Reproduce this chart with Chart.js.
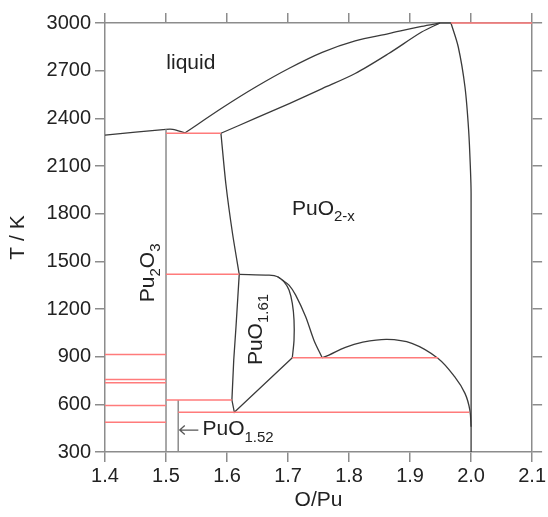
<!DOCTYPE html>
<html>
<head>
<meta charset="utf-8">
<script src="https://cdn.jsdelivr.net/npm/chart.js@4.4.1/dist/chart.umd.min.js"></script>
<style>
  html, body { margin: 0; padding: 0; background: #fff; }
</style>
</head>
<body>
<canvas id="diagrama" width="548" height="517"></canvas>
<script>
// limites das fases (O/Pu, T em K)
const liqPuX = [1.4, 1.5, 1.511, 1.531];
const liqPuT = [2294, 2331, 2331, 2308];

const liquidusX = [1.531, 1.593, 1.647, 1.702, 1.756, 1.81, 1.865, 1.919, 1.949];
const liquidusT = [2308, 2468, 2597, 2715, 2815, 2887, 2933, 2979, 3000];

const solidusX = [1.59, 1.647, 1.702, 1.756, 1.81, 1.865, 1.919, 1.949];
const solidusT = [2306, 2401, 2493, 2587, 2682, 2808, 2943, 3000];

const topoX = [1.949, 1.967];
const topoT = [3000, 3000];

const puo2DirX = [1.967, 1.979, 1.99, 1.996, 1.999, 2.0, 2.0];
const puo2DirT = [3000, 2849, 2597, 2325, 2074, 1929, 300];

const puo2EsqX = [1.59, 1.598, 1.609, 1.62];
const puo2EsqT = [2306, 1990, 1675, 1418];

const puo161TopoX = [1.62, 1.669, 1.683, 1.6935, 1.7016, 1.707, 1.7098, 1.7098, 1.707];
const puo161TopoT = [1418, 1413, 1403, 1371, 1319, 1235, 1130, 1004, 893];

const externoX = [1.683, 1.6907, 1.7016, 1.7125, 1.7289, 1.7424, 1.756];
const externoT = [1403, 1382, 1350, 1287, 1151, 1004, 893];

const domoX = [1.756, 1.767, 1.794, 1.821, 1.862, 1.903, 1.946, 1.973, 1.99, 1.998, 2.0];
const domoT = [893, 910, 959, 990, 1009, 984, 889, 774, 669, 564, 459];

const puo161EsqX = [1.62, 1.6147, 1.611, 1.608, 1.612, 1.707];
const puo161EsqT = [1418, 1088, 879, 627, 550, 893];

// compostos de linha (verticais cinza)
const pu2o3X = [1.5, 1.5];
const pu2o3T = [2331, 300];
const puo152X = [1.52, 1.52];
const puo152T = [627, 300];

// isotermas (linhas vermelhas)
const isoT = [2306, 1418, 627, 550, 893, 913, 756, 736, 593, 488, 3000];
const isoX0 = [1.5, 1.5, 1.5, 1.52, 1.707, 1.4, 1.4, 1.4, 1.4, 1.4, 1.967];
const isoX1 = [1.59, 1.62, 1.608, 1.997, 1.946, 1.5, 1.5, 1.5, 1.5, 1.5, 2.1];

const xTicks = [1.4, 1.5, 1.6, 1.7, 1.8, 1.9, 2.0, 2.1];
const yTicks = [300, 600, 900, 1200, 1500, 1800, 2100, 2400, 2700, 3000];

const FONTE = '"Liberation Sans", Arial, sans-serif';
const CINZA = "#8c8c8c";

function linha(xs, ts, cor, largura, tensao) {
  return {
    data: xs.map((x, i) => ({ x: x, y: ts[i] })),
    showLine: true,
    borderColor: cor,
    borderWidth: largura,
    pointRadius: 0,
    tension: tensao,
    fill: false,
    clip: 4,
  };
}

// textos dentro do gráfico: partes [texto, subscrito?]
const rotulos = [
  { x: 1.5005, t: 2745, partes: [["liquid", false]] },
  { x: 1.7065, t: 1830, partes: [["PuO", false], ["2-x", true]] },
  { x: 1.4705, t: 1243, rot: true, partes: [["Pu", false], ["2", true], ["O", false], ["3", true]] },
  { x: 1.6475, t: 847, rot: true, partes: [["PuO", false], ["1.61", true]] },
  { x: 1.5598, t: 441, partes: [["PuO", false], ["1.52", true]] },
];

// seta apontando para a linha de PuO1.52
const seta = { x0: 1.553, x1: 1.5225, t: 438 };

const pluginRotulos = {
  id: "rotulos",
  afterDatasetsDraw(chart) {
    const ctx = chart.ctx;
    const sx = chart.scales.x, sy = chart.scales.y;
    rotulos.forEach((r) => {
      ctx.save();
      ctx.translate(sx.getPixelForValue(r.x), sy.getPixelForValue(r.t));
      if (r.rot) ctx.rotate(-Math.PI / 2);
      ctx.fillStyle = "#222";
      ctx.textBaseline = "middle";
      ctx.textAlign = "left";
      let cx = 0;
      r.partes.forEach(([txt, sub]) => {
        ctx.font = (sub ? 15 : 21) + "px " + FONTE;
        ctx.fillText(txt, cx, sub ? 8 : 0);
        cx += ctx.measureText(txt).width;
      });
      ctx.restore();
    });

    const a = sx.getPixelForValue(seta.x0), b = sx.getPixelForValue(seta.x1);
    const py = sy.getPixelForValue(seta.t);
    ctx.save();
    ctx.strokeStyle = "#555";
    ctx.lineWidth = 1.3;
    ctx.beginPath();
    ctx.moveTo(a, py);
    ctx.lineTo(b, py);
    ctx.moveTo(b + 5, py - 4.5);
    ctx.lineTo(b, py);
    ctx.lineTo(b + 5, py + 4.5);
    ctx.stroke();
    ctx.restore();
  },
};

document.addEventListener("DOMContentLoaded", () => {
  const datasets = [];
  isoT.forEach((t, i) => {
    datasets.push(linha([isoX0[i], isoX1[i]], [t, t], "#ff7b7b", 1.5, 0));
  });
  datasets.push(linha(pu2o3X, pu2o3T, CINZA, 1.5, 0));
  datasets.push(linha(puo152X, puo152T, CINZA, 1.5, 0));
  const escuro = "#3a3a3a";
  datasets.push(linha(liqPuX, liqPuT, escuro, 1.3, 0.3));
  datasets.push(linha(liquidusX, liquidusT, escuro, 1.3, 0.3));
  datasets.push(linha(solidusX, solidusT, escuro, 1.3, 0.3));
  datasets.push(linha(topoX, topoT, escuro, 1.3, 0));
  datasets.push(linha(puo2DirX, puo2DirT, escuro, 1.3, 0.3));
  datasets.push(linha(puo2EsqX, puo2EsqT, escuro, 1.3, 0.2));
  datasets.push(linha(puo161TopoX, puo161TopoT, escuro, 1.3, 0.3));
  datasets.push(linha(externoX, externoT, escuro, 1.3, 0.3));
  datasets.push(linha(domoX, domoT, escuro, 1.3, 0.35));
  datasets.push(linha(puo161EsqX, puo161EsqT, escuro, 1.3, 0));

  const grade = { drawOnChartArea: false, drawTicks: true, tickLength: 10, color: CINZA, lineWidth: 1.5 };
  const borda = { display: true, color: CINZA, width: 1.5 };
  const fixos = (lista) => (scale) => { scale.ticks = lista.map((v) => ({ value: v })); };

  const ctx = document.getElementById("diagrama").getContext("2d");
  new Chart(ctx, {
    type: "scatter",
    data: { datasets: datasets },
    plugins: [pluginRotulos],
    options: {
      responsive: false,
      animation: false,
      events: [],
      layout: { padding: 0 },
      plugins: { legend: { display: false }, tooltip: { enabled: false } },
      scales: {
        x: {
          type: "linear", position: "bottom", min: 1.4, max: 2.1,
          afterBuildTicks: fixos(xTicks),
          ticks: { callback: (v) => v.toFixed(1), font: { size: 20, family: FONTE }, color: "#222", padding: 2, maxRotation: 0, autoSkip: false },
          grid: grade, border: borda,
          title: { display: true, text: "O/Pu", font: { size: 21, family: FONTE }, color: "#222", padding: { bottom: 4 } },
          afterFit: (s) => { s.height = 65; },
        },
        xTopo: {
          type: "linear", position: "top", min: 1.4, max: 2.1,
          afterBuildTicks: fixos(xTicks),
          ticks: { display: false },
          grid: grade, border: borda,
          afterFit: (s) => { s.height = 23; },
        },
        y: {
          type: "linear", position: "left", min: 300, max: 3000,
          afterBuildTicks: fixos(yTicks),
          ticks: { callback: (v) => String(v), font: { size: 20, family: FONTE }, color: "#222", padding: 4, autoSkip: false },
          grid: grade, border: borda,
          title: { display: true, text: "T / K", font: { size: 21, family: FONTE }, color: "#222", padding: { top: 6 } },
          afterFit: (s) => { s.width = 105; },
        },
        yDir: {
          type: "linear", position: "right", min: 300, max: 3000,
          afterBuildTicks: fixos(yTicks),
          ticks: { display: false },
          grid: grade, border: borda,
          afterFit: (s) => { s.width = 14; },
        },
      },
    },
  });
});
</script>
</body>
</html>
